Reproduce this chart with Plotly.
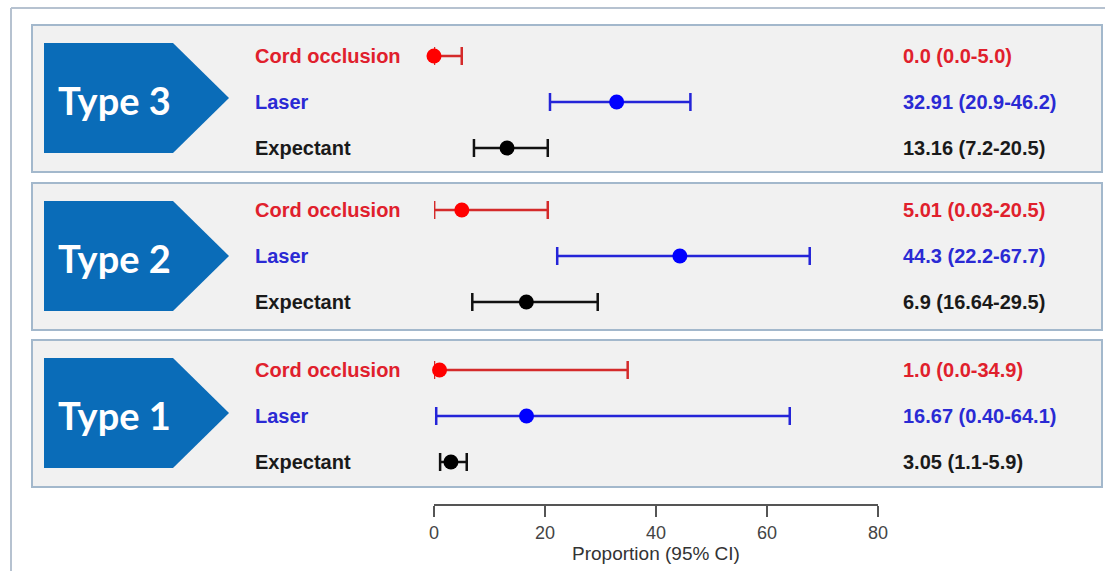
import plotly.graph_objects as go

# ---------------- data ----------------
types = ["Type 3", "Type 2", "Type 1"]
treatments = ["Cord occlusion", "Laser", "Expectant"]
estimate = [[0.0, 32.91, 13.16], [5.01, 44.3, 16.64], [1.0, 16.67, 3.05]]
ci_low = [[0.0, 20.9, 7.2], [0.03, 22.2, 6.9], [0.0, 0.40, 1.1]]
ci_high = [[5.0, 46.2, 20.5], [20.5, 67.7, 29.5], [34.9, 64.1, 5.9]]
value_labels = [
    ["0.0 (0.0-5.0)", "32.91 (20.9-46.2)", "13.16 (7.2-20.5)"],
    ["5.01 (0.03-20.5)", "44.3 (22.2-67.7)", "6.9 (16.64-29.5)"],
    ["1.0 (0.0-34.9)", "16.67 (0.40-64.1)", "3.05 (1.1-5.9)"],
]
x_ticks = [0, 20, 40, 60, 80]
x_title = "Proportion (95% CI)"

# ---------------- layout / style ----------------
W, H = 1105, 571
marker_colors = ["#ff0000", "#0000ff", "#000000"]
bar_colors = ["#d42a2a", "#2424d8", "#111111"]
label_colors = ["#e0202c", "#2a2ad4", "#1a1a1a"]
panel_top = [25, 183, 340]          # px from top
panel_bottom = [172, 330, 487]
group_center = [102, 256, 416]      # px from top (middle row)
row_gap = 46
chev_color = "#0a6cb8"
frame_color = "#b6c2d0"

def px(x):
    return x / W

fig = go.Figure()

shapes = []
# outer frame: only the left and top edges are visible in the page
shapes.append(dict(type="line", xref="paper", yref="paper", x0=px(11), x1=px(11),
                   y0=0.0, y1=1 - 8 / H, line=dict(color=frame_color, width=2), layer="below"))
shapes.append(dict(type="line", xref="paper", yref="paper", x0=px(11), x1=1.0,
                   y0=1 - 8 / H, y1=1 - 8 / H, line=dict(color=frame_color, width=2),
                   layer="below"))
annotations = []

for g, tname in enumerate(types):
    shapes.append(dict(type="rect", xref="paper", yref="y", x0=px(32), x1=px(1102),
                       y0=panel_top[g], y1=panel_bottom[g],
                       line=dict(color="#a3b8cc", width=2), fillcolor="#f1f1f1", layer="below"))
    cy = (panel_top[g] + panel_bottom[g]) / 2 - 0.5
    hh = 55
    path = (f"M {px(44)},{cy-hh} L {px(173)},{cy-hh} L {px(229)},{cy} "
            f"L {px(173)},{cy+hh} L {px(44)},{cy+hh} Z")
    shapes.append(dict(type="path", xref="paper", yref="y", path=path,
                       fillcolor=chev_color, line=dict(width=0), layer="below"))
    annotations.append(dict(x=px(114), y=cy + 2, xref="paper", yref="y", text=tname,
                            showarrow=False, xanchor="center", yanchor="middle",
                            font=dict(family="Lato", size=38, color="white", weight="bold")))
    for t, trt in enumerate(treatments):
        yy = group_center[g] + (t - 1) * row_gap
        annotations.append(dict(x=px(253), y=yy, xref="paper", yref="y", text=trt,
                                showarrow=False, xanchor="left", yanchor="middle",
                                font=dict(family="Liberation Sans", size=20,
                                          color=label_colors[t], weight="bold")))
        annotations.append(dict(x=px(901), y=yy, xref="paper", yref="y",
                                text=value_labels[g][t], showarrow=False,
                                xanchor="left", yanchor="middle",
                                font=dict(family="Liberation Sans", size=20,
                                          color=label_colors[t], weight="bold")))

for t, trt in enumerate(treatments):
    xs = [estimate[g][t] for g in range(3)]
    ys = [group_center[g] + (t - 1) * row_gap for g in range(3)]
    plus = [ci_high[g][t] - estimate[g][t] for g in range(3)]
    minus = [estimate[g][t] - ci_low[g][t] for g in range(3)]
    fig.add_trace(go.Scatter(
        x=xs, y=ys, mode="markers", name=trt, cliponaxis=False,
        marker=dict(color=marker_colors[t], size=15, line=dict(width=0)),
        error_x=dict(type="data", symmetric=False, array=plus, arrayminus=minus,
                     color=bar_colors[t], thickness=2.5, width=9),
        showlegend=False, hoverinfo="skip",
    ))

fig.update_layout(
    width=W, height=H, autosize=False,
    margin=dict(l=0, r=0, t=0, b=0, autoexpand=False),
    paper_bgcolor="white", plot_bgcolor="rgba(0,0,0,0)",
    shapes=shapes, annotations=annotations,
    xaxis=dict(domain=[px(434), px(878)], range=[0, 80], anchor="free",
               position=1 - 505 / H, showline=True, linecolor="#555555", linewidth=2,
               ticks="outside", ticklen=11, tickwidth=2, tickcolor="#555555",
               tickvals=x_ticks, showgrid=False, zeroline=False, automargin=False,
               tickfont=dict(family="Liberation Sans", size=18, color="#444444"),
               title=dict(text=x_title, standoff=2,
                          font=dict(family="Liberation Sans", size=19, color="#333333"))),
    yaxis=dict(domain=[0, 1], range=[H, 0], visible=False, showgrid=False,
               zeroline=False, automargin=False),
)

fig.write_html("out.html",
               config={"displayModeBar": False, "responsive": False},
               post_script=("document.body.style.margin='0px';"
                            "document.body.style.padding='0px';"
                            "document.body.style.overflow='hidden';"))
